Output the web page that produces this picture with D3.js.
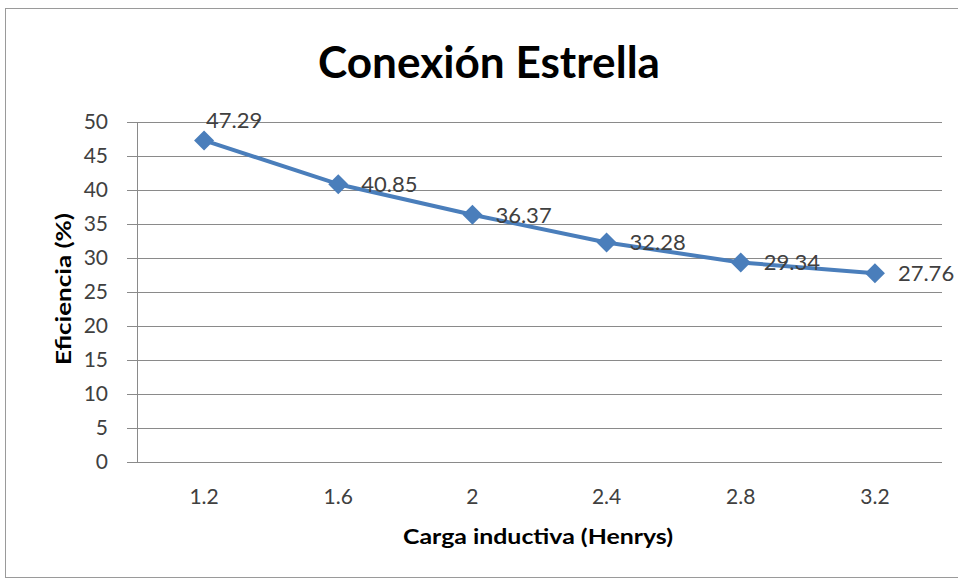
<!DOCTYPE html>
<html>
<head>
<meta charset="utf-8">
<script src="https://cdn.jsdelivr.net/npm/d3@7"></script>
<style>
  html, body { margin: 0; padding: 0; background: #fff; }
  svg { display: block; font-family: Lato, "Open Sans", sans-serif; }
</style>
</head>
<body>
<svg id="chart" width="958" height="579"></svg>
<script>
// Carga inductiva (H) vs eficiencia (%), conexión en estrella
const categories = ["1.2", "1.6", "2", "2.4", "2.8", "3.2"];
const efficiency = [47.29, 40.85, 36.37, 32.28, 29.34, 27.76];
const yTicks = [0, 5, 10, 15, 20, 25, 30, 35, 40, 45, 50];

const svg = d3.select("#chart");
const W = 958, H = 579;
const plot = { left: 137, right: 942, top: 122, bottom: 462 };
const textColor = "#404040";
const gridColor = "#8a8a8a";

// chart frame
svg.append("rect")
  .attr("x", 5.5).attr("y", 8.5)
  .attr("width", W + 10).attr("height", H - 10)
  .attr("fill", "#fff").attr("stroke", "#9a9a9a").attr("stroke-width", 1);

const x = d3.scaleBand().domain(categories).range([plot.left, plot.right]).padding(0);
const y = d3.scaleLinear().domain([0, 50]).range([plot.bottom, plot.top]);

// horizontal gridlines, extending left past the axis as tick marks
const gy = svg.append("g").attr("transform", `translate(${plot.right},0)`);
gy.call(d3.axisLeft(y).tickValues(yTicks).tickSize(plot.right - plot.left + 10).tickFormat(""));
gy.select(".domain").remove();
gy.selectAll(".tick line").attr("stroke", gridColor).attr("stroke-width", 1);

// value axis line and labels
const gyl = svg.append("g").attr("transform", `translate(${plot.left},0)`)
  .call(d3.axisLeft(y).tickValues(yTicks).tickSize(0).tickPadding(29));
gyl.select(".domain").attr("stroke", gridColor);
gyl.selectAll(".tick text")
  .attr("font-family", "Lato, sans-serif").attr("font-size", 21).attr("fill", textColor);

// category labels
const gx = svg.append("g").attr("transform", `translate(0,${plot.bottom})`)
  .call(d3.axisBottom(x).tickSize(0).tickPadding(27));
gx.select(".domain").remove();
gx.selectAll(".tick text")
  .attr("font-family", "Lato, sans-serif").attr("font-size", 21).attr("fill", textColor);

// series line
const cx = d => x(d) + x.bandwidth() / 2;
const pts = categories.map((c, i) => [cx(c), y(efficiency[i])]);
svg.append("path")
  .attr("d", d3.line()(pts))
  .attr("fill", "none").attr("stroke", "#4a7ebb").attr("stroke-width", 4)
  .attr("stroke-linejoin", "round");

// diamond markers
svg.selectAll(".marker").data(pts).join("path")
  .attr("class", "marker")
  .attr("transform", d => `translate(${d[0]},${d[1]})`)
  .attr("d", "M0,-10L10,0L0,10L-10,0Z")
  .attr("fill", "#4a7ebb");

// data labels (first one sits above its point)
svg.selectAll(".dlabel").data(efficiency).join("text")
  .attr("class", "dlabel")
  .attr("x", (d, i) => pts[i][0] + (i === 0 ? 2 : 23))
  .attr("y", (d, i) => pts[i][1] + (i === 0 ? -12 : 8))
  .attr("font-family", "Lato, sans-serif").attr("font-size", 22).attr("fill", textColor)
  .text(d => d.toFixed(2));

// title
svg.append("text")
  .attr("x", 489).attr("y", 78).attr("text-anchor", "middle")
  .attr("font-family", "Lato, sans-serif").attr("font-weight", "bold").attr("font-size", 44)
  .attr("textLength", 342).attr("lengthAdjust", "spacingAndGlyphs")
  .attr("fill", "#000").text("Conexión Estrella");

// axis titles
svg.append("text")
  .attr("transform", `translate(71,289) rotate(-90)`)
  .attr("text-anchor", "middle")
  .attr("font-family", "Lato, sans-serif").attr("font-weight", "bold").attr("font-size", 21)
  .attr("textLength", 152).attr("lengthAdjust", "spacingAndGlyphs")
  .attr("fill", "#000").text("Eficiencia  (%)");

svg.append("text")
  .attr("x", 538).attr("y", 544).attr("text-anchor", "middle")
  .attr("font-family", "Lato, sans-serif").attr("font-weight", "bold").attr("font-size", 21)
  .attr("textLength", 270).attr("lengthAdjust", "spacingAndGlyphs")
  .attr("fill", "#000").text("Carga inductiva (Henrys)");
</script>
</body>
</html>
